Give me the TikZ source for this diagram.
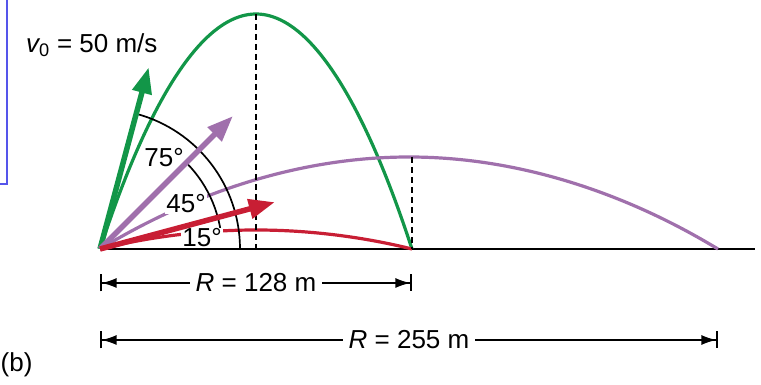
\documentclass[tikz,border=0pt]{standalone}
\usepackage{fontspec}
\setmainfont{Liberation Sans}
\usepackage{xcolor}
\usetikzlibrary{
	arrows.meta,
	positioning
}
\definecolor{trajgreen}{RGB}{18,150,72}
\definecolor{trajpurple}{RGB}{160,112,172}
\definecolor{trajred}{RGB}{200,30,52}
\definecolor{frameblue}{RGB}{85,85,235}

\begin{document}
\begin{tikzpicture}[>=Stealth,x=1pt,y=1pt,
		every node/.style={font=\fontsize{26}{28}\selectfont},
		trajline/.style={line width=3.2pt},
		velvec/.style={line width=5.5pt,-{Triangle[length=26pt,width=19pt]}},
		anglbl/.style={fill=white,inner sep=1pt},
		guide/.style={line width=1.5pt,dash pattern=on 6pt off 4pt},
		dimline/.style={line width=1.6pt,{Bar[width=17pt]Latex[length=15pt,width=10pt]}-{Latex[length=15pt,width=10pt]Bar[width=17pt]}}]
			
			\useasboundingbox (0,0) rectangle (761,385);
			
			\coordinate (O) at (100,136);
			\coordinate (Ra) at (412,136);
			\coordinate (Rb) at (718,136);
			\coordinate (Tg) at (256,371);
			\coordinate (Tp) at (409,228);
			\coordinate (Tr) at (256,155);
			\coordinate (G) at (755,136);
			
			\draw[frameblue,line width=2.6pt] (0,201) -- (7,201) -- (7,385);
			
			\draw[line width=2.2pt] (O) -- (G);
			
			\draw[trajline,trajgreen] (O) parabola bend (Tg) (Ra);
			\draw[trajline,trajpurple] (O) parabola bend (Tp) (Rb);
			\draw[trajline,trajred] (O) parabola bend (Tr) (Ra);
			
			\draw[guide] (Tg) -- (Tg |- O);
			\draw[guide] (Ra |- Tp) -- (Ra);
			
			\draw[line width=1.7pt] ([xshift=140pt]O) arc[start angle=0,end angle=75,radius=140pt];
			\draw[line width=1.7pt] ([xshift=122pt]O) arc[start angle=0,end angle=45,radius=122pt];
			
			\node[anglbl] (a75) at (164,227) {75°};
			\node[anglbl] (a45) at (186,181) {45°};
			\node[anglbl] (a15) at (202,147) {15°};
			
			\draw[velvec,trajgreen] (O) -- ++(75:188) coordinate (vg);
			\draw[velvec,trajpurple] (O) -- ++(45:188) coordinate (vp);
			\draw[velvec,trajred] (O) -- ++(15:181) coordinate (vr);
			
			\node[anchor=west,inner sep=0pt] (v0) at (26,340) {{\itshape v}\textsubscript{0} = 50 m/s};
			
			\coordinate (d1a) at (100,102);
			\coordinate (d1b) at (412,102);
			\coordinate (d2a) at (100,45);
			\coordinate (d2b) at (718,45);
			\draw[dimline] (d1a) -- node[fill=white,inner xsep=6pt,inner ysep=1pt] (r1) {{\itshape R} = 128 m} (d1b);
			\draw[dimline] (d2a) -- node[fill=white,inner xsep=6pt,inner ysep=1pt] (r2) {{\itshape R} = 255 m} (d2b);
			
			\node[anchor=west,inner sep=0pt] (fig) at (0.5,20) {(b)};
			
		\end{tikzpicture}
\end{document}
